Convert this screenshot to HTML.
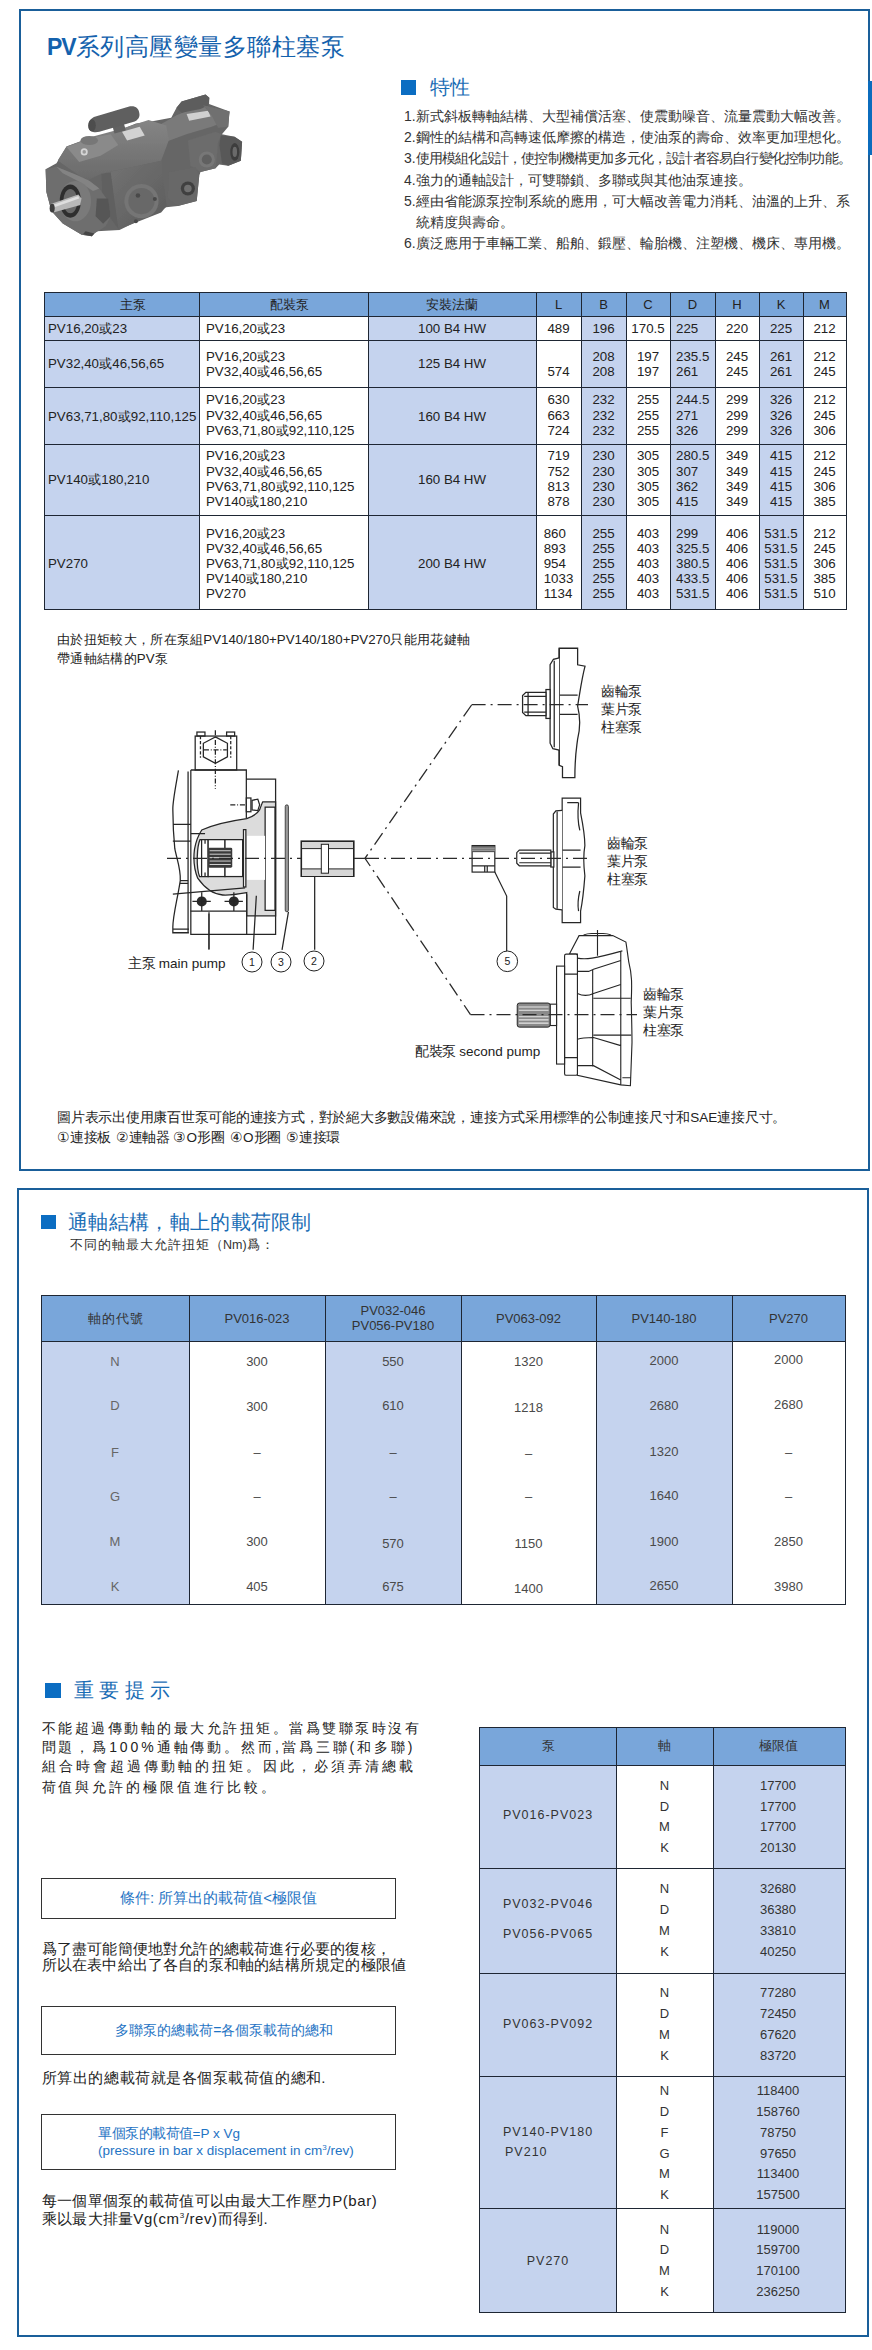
<!DOCTYPE html><html><head><meta charset="utf-8"><style>
html,body{margin:0;padding:0;background:#fff;}
body{width:872px;height:2350px;position:relative;overflow:hidden;font-family:"Liberation Sans", sans-serif;}
.t{position:absolute;white-space:nowrap;}
.r{position:absolute;box-sizing:border-box;}
svg{position:absolute;overflow:visible;}
i{display:inline-block;width:var(--cw,1em);text-align:center;font-style:normal;letter-spacing:0;margin-right:var(--ls,0px);}
.nocjk i{position:relative;-webkit-text-fill-color:transparent;}
.nocjk i::before{content:'';position:absolute;left:0.08em;right:0.08em;top:50%;height:0.82em;margin-top:-0.42em;background:currentColor;opacity:0.37;}
.nocjk i.p::before{left:0.12em;right:0.55em;margin-top:0.12em;height:0.3em;}
</style></head><body>
<div class="r" style="left:19px;top:9px;width:851px;height:1162px;border:2px solid #1a5f9a;"></div>
<div class="r" style="left:868px;top:81px;width:4px;height:74px;background:#0b6cbd;"></div>
<div class="r" style="left:17px;top:1188px;width:852px;height:1149px;border:2px solid #1a5f9a;"></div>
<div class="t" style="left:47px;top:32px;font-size:24.4px;line-height:30px;color:#1462ad;--cw:24.5px;"><b style="font-size:23px;letter-spacing:-1.2px;">PV</b><i>系</i><i>列</i><i>高</i><i>壓</i><i>變</i><i>量</i><i>多</i><i>聯</i><i>柱</i><i>塞</i><i>泵</i></div>
<div class="r" style="left:401px;top:80px;width:15px;height:15px;background:#0b6dc2;"></div>
<div class="t" style="left:430px;top:75.0px;font-size:20px;line-height:24.0px;color:#1a6db5;"><i>特</i><i>性</i></div>
<div class="t" style="left:404px;top:107.6px;font-size:14px;line-height:16.8px;color:#333;">1.<i>新</i><i>式</i><i>斜</i><i>板</i><i>轉</i><i>軸</i><i>結</i><i>構</i><i class="p">、</i><i>大</i><i>型</i><i>補</i><i>償</i><i>活</i><i>塞</i><i class="p">、</i><i>使</i><i>震</i><i>動</i><i>噪</i><i>音</i><i class="p">、</i><i>流</i><i>量</i><i>震</i><i>動</i><i>大</i><i>幅</i><i>改</i><i>善</i><i class="p">。</i></div>
<div class="t" style="left:404px;top:128.9px;font-size:14px;line-height:16.8px;color:#333;">2.<i>鋼</i><i>性</i><i>的</i><i>結</i><i>構</i><i>和</i><i>高</i><i>轉</i><i>速</i><i>低</i><i>摩</i><i>擦</i><i>的</i><i>構</i><i>造</i><i class="p">，</i><i>使</i><i>油</i><i>泵</i><i>的</i><i>壽</i><i>命</i><i class="p">、</i><i>效</i><i>率</i><i>更</i><i>加</i><i>理</i><i>想</i><i>化</i><i class="p">。</i></div>
<div class="t" style="left:404px;top:150.2px;font-size:14px;line-height:16.8px;color:#333;--cw:13.2px;">3.<i>使</i><i>用</i><i>模</i><i>組</i><i>化</i><i>設</i><i>計</i><i class="p">，</i><i>使</i><i>控</i><i>制</i><i>機</i><i>構</i><i>更</i><i>加</i><i>多</i><i>元</i><i>化</i><i class="p">，</i><i>設</i><i>計</i><i>者</i><i>容</i><i>易</i><i>自</i><i>行</i><i>變</i><i>化</i><i>控</i><i>制</i><i>功</i><i>能</i><i class="p">。</i></div>
<div class="t" style="left:404px;top:171.5px;font-size:14px;line-height:16.8px;color:#333;">4.<i>強</i><i>力</i><i>的</i><i>通</i><i>軸</i><i>設</i><i>計</i><i class="p">，</i><i>可</i><i>雙</i><i>聯</i><i>鎖</i><i class="p">、</i><i>多</i><i>聯</i><i>或</i><i>與</i><i>其</i><i>他</i><i>油</i><i>泵</i><i>連</i><i>接</i><i class="p">。</i></div>
<div class="t" style="left:404px;top:192.8px;font-size:14px;line-height:16.8px;color:#333;">5.<i>經</i><i>由</i><i>省</i><i>能</i><i>源</i><i>泵</i><i>控</i><i>制</i><i>系</i><i>統</i><i>的</i><i>應</i><i>用</i><i class="p">，</i><i>可</i><i>大</i><i>幅</i><i>改</i><i>善</i><i>電</i><i>力</i><i>消</i><i>耗</i><i class="p">、</i><i>油</i><i>溫</i><i>的</i><i>上</i><i>升</i><i class="p">、</i><i>系</i></div>
<div class="t" style="left:404px;top:214.1px;font-size:14px;line-height:16.8px;color:#333;">&nbsp;&nbsp;&nbsp;<i>統</i><i>精</i><i>度</i><i>與</i><i>壽</i><i>命</i><i class="p">。</i></div>
<div class="t" style="left:404px;top:235.4px;font-size:14px;line-height:16.8px;color:#333;">6.<i>廣</i><i>泛</i><i>應</i><i>用</i><i>于</i><i>車</i><i>輛</i><i>工</i><i>業</i><i class="p">、</i><i>船</i><i>舶</i><i class="p">、</i><i>鍛</i><i>壓</i><i class="p">、</i><i>輪</i><i>胎</i><i>機</i><i class="p">、</i><i>注</i><i>塑</i><i>機</i><i class="p">、</i><i>機</i><i>床</i><i class="p">、</i><i>專</i><i>用</i><i>機</i><i class="p">。</i></div>
<svg style="left:35px;top:80px;width:220px;height:170px" viewBox="0 0 872 674">
<defs>
<linearGradient id="pg1" x1="0" y1="0" x2="0" y2="1"><stop offset="0" stop-color="#858585"/><stop offset="1" stop-color="#6a6a6a"/></linearGradient>
<linearGradient id="pg2" x1="0" y1="0" x2="1" y2="1"><stop offset="0" stop-color="#747474"/><stop offset="1" stop-color="#5c5c5c"/></linearGradient>
<filter id="pblur" x="-5%" y="-5%" width="110%" height="110%"><feGaussianBlur stdDeviation="2.5"/></filter>
</defs>
<g stroke="none" filter="url(#pblur)">
<!-- base silhouette -->
<polygon fill="#666" points="42,354 85,330 125,264 230,226 300,212 315,200 345,195 400,172 460,165 540,150 561,110 581,85 676,57 691,70 690,95 771,125 766,185 741,215 791,225 821,245 816,320 766,340 730,335 716,350 656,365 651,380 641,480 566,500 520,505 335,595 245,600 235,609 225,619 185,614 110,569 65,519 45,444"/>
<!-- right section top faces -->
<polygon fill="#7a7a7a" points="455,200 561,140 660,100 771,125 766,160 700,185 600,215 520,245 470,250"/>
<polygon fill="#5d5d5d" points="561,110 581,85 676,57 691,70 688,100 656,115 581,130"/>
<polygon fill="#d0d0d0" points="601,135 686,122 696,145 611,162"/>
<polygon fill="#6f6f6f" points="666,100 771,125 766,185 726,190 700,140"/>
<!-- middle front -->
<polygon fill="#6c6c6c" points="606,240 716,205 741,215 726,245 716,350 656,365 616,340"/>
<circle cx="681" cy="315" r="32" fill="#777"/>
<circle cx="681" cy="315" r="20" fill="#606060"/>
<!-- right end port block -->
<polygon fill="#595959" points="736,220 791,225 821,245 816,320 766,340 741,330 731,260"/>
<ellipse cx="792" cy="285" rx="18" ry="35" fill="#3c3c3c"/>
<ellipse cx="792" cy="285" rx="9" ry="20" fill="#6a6a6a"/>
<!-- main top face -->
<polygon fill="url(#pg1)" points="90,319 125,264 230,224 340,194 450,159 520,180 530,240 500,320 262,372 205,399"/>
<polygon fill="#8a8a8a" points="125,266 230,228 300,215 330,258 260,300 175,325"/>
<ellipse cx="215" cy="240" rx="35" ry="18" fill="#777"/>
<!-- left compensator -->
<polygon fill="#626262" points="305,175 350,165 360,200 315,212"/>
<path fill="#5f5f5f" d="M212,188 C210,165 222,150 240,145 L370,106 C395,100 412,110 414,135 C416,150 405,160 395,165 L255,205 C235,210 214,205 212,188 Z"/>
<ellipse cx="226" cy="180" rx="15" ry="24" fill="#4e4e4e"/>
<polygon fill="#d2d2d2" points="345,205 415,185 435,220 365,240"/>
<!-- main body front face -->
<polygon fill="url(#pg2)" points="262,372 500,320 522,500 500,525 332,592 268,505"/>
<polygon fill="#606060" points="262,372 300,366 330,590 268,505"/>
<circle cx="422" cy="480" r="68" fill="#747474"/>
<circle cx="422" cy="480" r="52" fill="#686868"/>
<circle cx="408" cy="458" r="9" fill="#4a4a4a"/>
<circle cx="475" cy="472" r="8" fill="#4a4a4a"/>
<circle cx="400" cy="560" r="8" fill="#4a4a4a"/>
<!-- main port flange -->
<polygon fill="#676767" points="531,365 636,345 651,380 641,480 566,500 526,470"/>
<circle cx="606" cy="430" r="28" fill="#414141"/>
<circle cx="606" cy="430" r="15" fill="#707070"/>
<!-- front flange -->
<polygon fill="#6e6e6e" points="42,354 85,344 120,359 170,379 215,399 255,430 290,480 300,540 280,580 235,609 225,619 185,614 110,569 65,519 45,444"/>
<polygon fill="#838383" points="85,344 170,379 215,399 255,430 230,440 170,400 110,370"/>
<ellipse cx="160" cy="480" rx="62" ry="80" fill="#7a7a7a"/>
<ellipse cx="140" cy="480" rx="42" ry="66" fill="#2e2e2e"/>
<ellipse cx="140" cy="480" rx="28" ry="48" fill="#686868"/>
<polygon fill="#575757" points="245,470 290,470 300,540 270,570 240,540"/>
<!-- shaft -->
<polygon fill="#b8b8b8" points="62,492 172,454 184,470 180,496 76,524"/>
<polygon fill="#dedede" points="66,497 172,460 175,470 68,507"/>
<ellipse cx="68" cy="508" rx="10" ry="17" fill="#3c3c3c"/>
<circle cx="195" cy="285" r="14" fill="#d5d5d5"/>
<circle cx="195" cy="285" r="7" fill="#9a9a9a"/>
<polygon fill="#444" points="200,600 235,609 225,619 190,612"/>
</g>
</svg>

<div class="r" style="left:44px;top:292px;width:802px;height:24px;background:#79a6da;"></div>
<div class="r" style="left:44px;top:316px;width:155px;height:293px;background:#c5d3ee;"></div>
<div class="r" style="left:368px;top:316px;width:168px;height:293px;background:#c5d3ee;"></div>
<div class="r" style="left:581px;top:316px;width:45px;height:293px;background:#c5d3ee;"></div>
<div class="r" style="left:670px;top:316px;width:45px;height:293px;background:#c5d3ee;"></div>
<div class="r" style="left:759px;top:316px;width:44px;height:293px;background:#c5d3ee;"></div>
<div class="r" style="left:44px;top:292px;width:1px;height:318px;background:#1e2633;"></div>
<div class="r" style="left:199px;top:292px;width:1px;height:318px;background:#1e2633;"></div>
<div class="r" style="left:368px;top:292px;width:1px;height:318px;background:#1e2633;"></div>
<div class="r" style="left:536px;top:292px;width:1px;height:318px;background:#1e2633;"></div>
<div class="r" style="left:581px;top:292px;width:1px;height:318px;background:#1e2633;"></div>
<div class="r" style="left:626px;top:292px;width:1px;height:318px;background:#1e2633;"></div>
<div class="r" style="left:670px;top:292px;width:1px;height:318px;background:#1e2633;"></div>
<div class="r" style="left:715px;top:292px;width:1px;height:318px;background:#1e2633;"></div>
<div class="r" style="left:759px;top:292px;width:1px;height:318px;background:#1e2633;"></div>
<div class="r" style="left:803px;top:292px;width:1px;height:318px;background:#1e2633;"></div>
<div class="r" style="left:846px;top:292px;width:1px;height:318px;background:#1e2633;"></div>
<div class="r" style="left:44px;top:292px;width:803px;height:1px;background:#1e2633;"></div>
<div class="r" style="left:44px;top:316px;width:803px;height:1px;background:#1e2633;"></div>
<div class="r" style="left:44px;top:340px;width:803px;height:1px;background:#1e2633;"></div>
<div class="r" style="left:44px;top:387px;width:803px;height:1px;background:#1e2633;"></div>
<div class="r" style="left:44px;top:444px;width:803px;height:1px;background:#1e2633;"></div>
<div class="r" style="left:44px;top:515px;width:803px;height:1px;background:#1e2633;"></div>
<div class="r" style="left:44px;top:609px;width:803px;height:1px;background:#1e2633;"></div>
<div class="t" style="left:-67.5px;width:400px;text-align:center;top:296.7px;font-size:13px;line-height:15.6px;color:#222;"><i>主</i><i>泵</i></div>
<div class="t" style="left:89.5px;width:400px;text-align:center;top:296.7px;font-size:13px;line-height:15.6px;color:#222;"><i>配</i><i>裝</i><i>泵</i></div>
<div class="t" style="left:252.0px;width:400px;text-align:center;top:296.7px;font-size:13px;line-height:15.6px;color:#222;"><i>安</i><i>裝</i><i>法</i><i>蘭</i></div>
<div class="t" style="left:358.5px;width:400px;text-align:center;top:296.7px;font-size:13px;line-height:15.6px;color:#222;">L</div>
<div class="t" style="left:403.5px;width:400px;text-align:center;top:296.7px;font-size:13px;line-height:15.6px;color:#222;">B</div>
<div class="t" style="left:448.0px;width:400px;text-align:center;top:296.7px;font-size:13px;line-height:15.6px;color:#222;">C</div>
<div class="t" style="left:492.5px;width:400px;text-align:center;top:296.7px;font-size:13px;line-height:15.6px;color:#222;">D</div>
<div class="t" style="left:537.0px;width:400px;text-align:center;top:296.7px;font-size:13px;line-height:15.6px;color:#222;">H</div>
<div class="t" style="left:581.0px;width:400px;text-align:center;top:296.7px;font-size:13px;line-height:15.6px;color:#222;">K</div>
<div class="t" style="left:624.5px;width:400px;text-align:center;top:296.7px;font-size:13px;line-height:15.6px;color:#222;">M</div>
<div class="t" style="left:48px;top:320.5px;font-size:13.3px;line-height:15.00px;color:#222;">PV16,20<i>或</i>23</div>
<div class="t" style="left:206px;top:320.5px;font-size:13.3px;line-height:15.00px;color:#222;">PV16,20<i>或</i>23</div>
<div class="t" style="left:368px;width:168px;top:320.5px;font-size:13.3px;line-height:15.00px;color:#222;display:flex;justify-content:center;"><div style="text-align:left">100 B4 HW</div></div>
<div class="t" style="left:536px;width:45px;top:320.5px;font-size:13.3px;line-height:15.00px;color:#222;display:flex;justify-content:center;"><div style="text-align:left">489</div></div>
<div class="t" style="left:581px;width:45px;top:320.5px;font-size:13.3px;line-height:15.00px;color:#222;display:flex;justify-content:center;"><div style="text-align:left">196</div></div>
<div class="t" style="left:626px;width:44px;top:320.5px;font-size:13.3px;line-height:15.00px;color:#222;display:flex;justify-content:center;"><div style="text-align:left">170.5</div></div>
<div class="t" style="left:676px;top:320.5px;font-size:13.3px;line-height:15.00px;color:#222;">225</div>
<div class="t" style="left:715px;width:44px;top:320.5px;font-size:13.3px;line-height:15.00px;color:#222;display:flex;justify-content:center;"><div style="text-align:left">220</div></div>
<div class="t" style="left:759px;width:44px;top:320.5px;font-size:13.3px;line-height:15.00px;color:#222;display:flex;justify-content:center;"><div style="text-align:left">225</div></div>
<div class="t" style="left:803px;width:43px;top:320.5px;font-size:13.3px;line-height:15.00px;color:#222;display:flex;justify-content:center;"><div style="text-align:left">212</div></div>
<div class="t" style="left:48px;top:355.5px;font-size:13.3px;line-height:15.00px;color:#222;">PV32,40<i>或</i>46,56,65</div>
<div class="t" style="left:206px;top:348.5px;font-size:13.3px;line-height:15.00px;color:#222;">PV16,20<i>或</i>23<br>PV32,40<i>或</i>46,56,65</div>
<div class="t" style="left:368px;width:168px;top:355.5px;font-size:13.3px;line-height:15.00px;color:#222;display:flex;justify-content:center;"><div style="text-align:left">125 B4 HW</div></div>
<div class="t" style="left:536px;width:45px;top:348.5px;font-size:13.3px;line-height:15.00px;color:#222;display:flex;justify-content:center;"><div style="text-align:left">&nbsp;<br>574</div></div>
<div class="t" style="left:581px;width:45px;top:348.5px;font-size:13.3px;line-height:15.00px;color:#222;display:flex;justify-content:center;"><div style="text-align:left">208<br>208</div></div>
<div class="t" style="left:626px;width:44px;top:348.5px;font-size:13.3px;line-height:15.00px;color:#222;display:flex;justify-content:center;"><div style="text-align:left">197<br>197</div></div>
<div class="t" style="left:676px;top:348.5px;font-size:13.3px;line-height:15.00px;color:#222;">235.5<br>261</div>
<div class="t" style="left:715px;width:44px;top:348.5px;font-size:13.3px;line-height:15.00px;color:#222;display:flex;justify-content:center;"><div style="text-align:left">245<br>245</div></div>
<div class="t" style="left:759px;width:44px;top:348.5px;font-size:13.3px;line-height:15.00px;color:#222;display:flex;justify-content:center;"><div style="text-align:left">261<br>261</div></div>
<div class="t" style="left:803px;width:43px;top:348.5px;font-size:13.3px;line-height:15.00px;color:#222;display:flex;justify-content:center;"><div style="text-align:left">212<br>245</div></div>
<div class="t" style="left:48px;top:408.5px;font-size:13.3px;line-height:15.00px;color:#222;">PV63,71,80<i>或</i>92,110,125</div>
<div class="t" style="left:206px;top:392.2px;font-size:13.3px;line-height:15.60px;color:#222;">PV16,20<i>或</i>23<br>PV32,40<i>或</i>46,56,65<br>PV63,71,80<i>或</i>92,110,125</div>
<div class="t" style="left:368px;width:168px;top:408.5px;font-size:13.3px;line-height:15.00px;color:#222;display:flex;justify-content:center;"><div style="text-align:left">160 B4 HW</div></div>
<div class="t" style="left:536px;width:45px;top:392.2px;font-size:13.3px;line-height:15.60px;color:#222;display:flex;justify-content:center;"><div style="text-align:left">630<br>663<br>724</div></div>
<div class="t" style="left:581px;width:45px;top:392.2px;font-size:13.3px;line-height:15.60px;color:#222;display:flex;justify-content:center;"><div style="text-align:left">232<br>232<br>232</div></div>
<div class="t" style="left:626px;width:44px;top:392.2px;font-size:13.3px;line-height:15.60px;color:#222;display:flex;justify-content:center;"><div style="text-align:left">255<br>255<br>255</div></div>
<div class="t" style="left:676px;top:392.2px;font-size:13.3px;line-height:15.60px;color:#222;">244.5<br>271<br>326</div>
<div class="t" style="left:715px;width:44px;top:392.2px;font-size:13.3px;line-height:15.60px;color:#222;display:flex;justify-content:center;"><div style="text-align:left">299<br>299<br>299</div></div>
<div class="t" style="left:759px;width:44px;top:392.2px;font-size:13.3px;line-height:15.60px;color:#222;display:flex;justify-content:center;"><div style="text-align:left">326<br>326<br>326</div></div>
<div class="t" style="left:803px;width:43px;top:392.2px;font-size:13.3px;line-height:15.60px;color:#222;display:flex;justify-content:center;"><div style="text-align:left">212<br>245<br>306</div></div>
<div class="t" style="left:48px;top:471.5px;font-size:13.3px;line-height:15.00px;color:#222;">PV140<i>或</i>180,210</div>
<div class="t" style="left:206px;top:448.4px;font-size:13.3px;line-height:15.20px;color:#222;">PV16,20<i>或</i>23<br>PV32,40<i>或</i>46,56,65<br>PV63,71,80<i>或</i>92,110,125<br>PV140<i>或</i>180,210</div>
<div class="t" style="left:368px;width:168px;top:471.5px;font-size:13.3px;line-height:15.00px;color:#222;display:flex;justify-content:center;"><div style="text-align:left">160 B4 HW</div></div>
<div class="t" style="left:536px;width:45px;top:448.4px;font-size:13.3px;line-height:15.20px;color:#222;display:flex;justify-content:center;"><div style="text-align:left">719<br>752<br>813<br>878</div></div>
<div class="t" style="left:581px;width:45px;top:448.4px;font-size:13.3px;line-height:15.20px;color:#222;display:flex;justify-content:center;"><div style="text-align:left">230<br>230<br>230<br>230</div></div>
<div class="t" style="left:626px;width:44px;top:448.4px;font-size:13.3px;line-height:15.20px;color:#222;display:flex;justify-content:center;"><div style="text-align:left">305<br>305<br>305<br>305</div></div>
<div class="t" style="left:676px;top:448.4px;font-size:13.3px;line-height:15.20px;color:#222;">280.5<br>307<br>362<br>415</div>
<div class="t" style="left:715px;width:44px;top:448.4px;font-size:13.3px;line-height:15.20px;color:#222;display:flex;justify-content:center;"><div style="text-align:left">349<br>349<br>349<br>349</div></div>
<div class="t" style="left:759px;width:44px;top:448.4px;font-size:13.3px;line-height:15.20px;color:#222;display:flex;justify-content:center;"><div style="text-align:left">415<br>415<br>415<br>415</div></div>
<div class="t" style="left:803px;width:43px;top:448.4px;font-size:13.3px;line-height:15.20px;color:#222;display:flex;justify-content:center;"><div style="text-align:left">212<br>245<br>306<br>385</div></div>
<div class="t" style="left:48px;top:555.5px;font-size:13.3px;line-height:15.00px;color:#222;">PV270</div>
<div class="t" style="left:206px;top:525.5px;font-size:13.3px;line-height:15.10px;color:#222;">PV16,20<i>或</i>23<br>PV32,40<i>或</i>46,56,65<br>PV63,71,80<i>或</i>92,110,125<br>PV140<i>或</i>180,210<br>PV270</div>
<div class="t" style="left:368px;width:168px;top:555.5px;font-size:13.3px;line-height:15.00px;color:#222;display:flex;justify-content:center;"><div style="text-align:left">200 B4 HW</div></div>
<div class="t" style="left:536px;width:45px;top:525.5px;font-size:13.3px;line-height:15.10px;color:#222;display:flex;justify-content:center;"><div style="text-align:left">860<br>893<br>954<br>1033<br>1134</div></div>
<div class="t" style="left:581px;width:45px;top:525.5px;font-size:13.3px;line-height:15.10px;color:#222;display:flex;justify-content:center;"><div style="text-align:left">255<br>255<br>255<br>255<br>255</div></div>
<div class="t" style="left:626px;width:44px;top:525.5px;font-size:13.3px;line-height:15.10px;color:#222;display:flex;justify-content:center;"><div style="text-align:left">403<br>403<br>403<br>403<br>403</div></div>
<div class="t" style="left:676px;top:525.5px;font-size:13.3px;line-height:15.10px;color:#222;">299<br>325.5<br>380.5<br>433.5<br>531.5</div>
<div class="t" style="left:715px;width:44px;top:525.5px;font-size:13.3px;line-height:15.10px;color:#222;display:flex;justify-content:center;"><div style="text-align:left">406<br>406<br>406<br>406<br>406</div></div>
<div class="t" style="left:759px;width:44px;top:525.5px;font-size:13.3px;line-height:15.10px;color:#222;display:flex;justify-content:center;"><div style="text-align:left">531.5<br>531.5<br>531.5<br>531.5<br>531.5</div></div>
<div class="t" style="left:803px;width:43px;top:525.5px;font-size:13.3px;line-height:15.10px;color:#222;display:flex;justify-content:center;"><div style="text-align:left">212<br>245<br>306<br>385<br>510</div></div>
<div class="t" style="left:57px;top:631.5px;font-size:13.3px;line-height:16.0px;color:#222;"><i>由</i><i>於</i><i>扭</i><i>矩</i><i>較</i><i>大</i><i class="p">，</i><i>所</i><i>在</i><i>泵</i><i>組</i>PV140/180+PV140/180+PV270<i>只</i><i>能</i><i>用</i><i>花</i><i>鍵</i><i>軸</i></div>
<div class="t" style="left:57px;top:650.5px;font-size:13.3px;line-height:16.0px;color:#222;"><i>帶</i><i>通</i><i>軸</i><i>結</i><i>構</i><i>的</i>PV<i>泵</i></div>
<svg style="left:0px;top:600px;width:872px;height:500px" viewBox="0 600 872 500">
<defs>
<style>
.k{stroke:#262626;}
.k:not([fill]){fill:none;}
.dd{fill:none;stroke:#2a2a2a;stroke-dasharray:14 5 2 5;}
</style>
</defs>
<!-- main pump: zoom [150,720,350,940] scale 4.36 -->
<g transform="translate(150,720) scale(0.22936)" stroke-width="5.5">
  <!-- grey section -->
  <path fill="#dcdcdc" stroke="#262626" d="M421.6,430 C450,420 470,405 477.6,392 C485,375 488,362 491.6,357 L547.6,357 L547.6,854 L421.6,854 L421.6,752.6 C380,760 340,765 316.6,763 C280,760 240,735 208,689.6 C192,650 188,610 194,563.6 C200,530 212,500 225.6,479.6 C280,455 350,440 421.6,430 Z"/>
  <rect x="502" y="380" width="43" height="450" fill="#fff" class="k"/>
  <rect x="421.6" y="505" width="80" height="192" fill="#fff" stroke="none"/>
  <rect x="421.6" y="697" width="80" height="0" class="k"/>
  <!-- hub -->
  <path fill="#fff" class="k" d="M253.6,521.6 H218 C205,550 200,640 216,682.6 H253.6 Z"/>
  <path class="k" d="M225,521.6 V682.6 M240,521.6 V540 M240,665 V682.6"/>
  <rect class="k" x="253.6" y="521.6" width="73.4" height="161" fill="#fff"/>
  <rect class="k" x="327" y="521.6" width="77" height="161" fill="#fff"/>
  <rect x="253.6" y="556.6" width="105" height="87.4" fill="#3a3a3a" rx="6"/>
  <path stroke="#e0e0e0" stroke-width="4" d="M260,570 H352 M260,585 H352 M260,600 H352 M260,615 H352 M260,630 H352"/>
  <rect class="k" x="407.6" y="478" width="10.4" height="250" fill="#fff"/>
  <!-- body -->
  <rect class="k" x="197" y="70" width="181" height="148" fill="#fff"/>
  <rect class="k" x="204.6" y="52.5" width="35" height="17.5"/>
  <rect class="k" x="334" y="52.5" width="35" height="17.5"/>
  <polygon class="k" points="285.1,73.5 337.6,101.5 337.6,161 285.1,189 232.6,161 232.6,101.5"/>
  <path class="k" stroke-dasharray="14 8" d="M220,70 V165 M352,70 V165"/>
  <path class="k" stroke-dasharray="22 8 4 8" d="M285,45 V300 M235,130 H335"/>
  <path class="k" d="M178,218 H420 V430 M178,218 V934.6 H547.6 V258 H420 M166,225 V925"/>
  <path class="k" d="M124,220 C110,300 98,360 99.6,392 C100,450 104,520 108,560 C115,600 135,650 132,700 C120,780 100,850 99.6,903 V927.6 H169.6 M99.6,455 H178 M99.6,528 H178 M132,700 H166 M132,712 H166 M99.6,912 H169.6"/>
  <rect class="k" x="420" y="340" width="20" height="60" fill="#fff"/>
  <polygon class="k" points="445,350 470,345 478,370 470,395 445,392" fill="#fff"/>
  <path class="k" stroke-dasharray="22 8 4 8" d="M350,370 H420"/>
  <path class="k" d="M178,495 H240 M176.6,833 H421.6 M421.6,760 V934.6 M99.6,759.6 L414.6,731.6"/>
  <circle cx="225.6" cy="791" r="22" fill="#2a2a2a"/>
  <circle cx="365.6" cy="791" r="22" fill="#2a2a2a"/>
  <path class="k" d="M185,791 H265 M325,791 H405 M225.6,751 V833 M365.6,751 V833"/>
  <rect x="589.6" y="370" width="14" height="466" rx="7" fill="#9a9a9a" stroke="#2b2b2b" stroke-width="3.5"/>
  <path class="k" d="M257,843.6 V1002 M463.6,766.6 L449.6,1002 M603.6,836.6 L575.6,1002 M718,680 V1002"/>
</g>
<!-- center dash-dot main -->

<!-- coupling 2 -->
<rect x="301.3" y="841.2" width="52.5" height="35" fill="#fff" stroke="#222" stroke-width="1.6"/>
<rect x="302" y="842" width="51" height="6.5" fill="#d6d6d6"/>
<rect x="302" y="869" width="51" height="7" fill="#d6d6d6"/>
<path class="k" stroke-width="1" d="M301.3,848.6 H353.8 M301.3,868.9 H353.8"/>
<rect x="321.3" y="844.3" width="7.2" height="28.9" fill="#fff" stroke="#222" stroke-width="1"/>
<!-- diagonals -->
<path class="dd" stroke-width="1.3" d="M471.6,705 L365,858.3 L470.5,1014.6"/>



<!-- upper pump: zoom [440,640,680,790] scale 3.633 -->
<g transform="translate(440,640) scale(0.27525)" stroke-width="4.6">
  <path class="k" fill="#fff" d="M433,30 H500 V90 L527,95 C515,140 510,180 500,240 C510,280 510,320 500,360 C495,400 490,420 490,500 H445 V460 L433,455 Z"/>
  <path class="k" d="M433,30 V455 M433,200 H500 M433,270 H500"/>
  <path class="k" fill="#fff" d="M433,65 L412,70 L400,90 V375 L410,395 L433,400"/>
  <path class="k" d="M415,75 V390"/>
  <rect class="k" x="385" y="180" width="15" height="105" fill="#fff"/>
  <path class="k" fill="#fff" d="M385,190 H312 L300,202 V263 L312,275 H385 Z"/>
  <path class="k" d="M306,205 H385 M306,262 H385 M320,190 V275"/>
</g>
<!-- middle pump: zoom [460,780,680,940] scale 3.964 -->
<g transform="translate(460,780) scale(0.25227)" stroke-width="4.8">
  <path class="k" fill="#fff" d="M405,72 H478 V130 C488,180 495,230 495,260 C488,300 490,340 495,380 C492,420 488,470 478,520 V565 H405 Z"/>
  <path class="k" d="M425,90 H470 M405,278 H478 M405,345 H478 M470,90 C465,140 470,180 475,200 M470,520 C465,490 470,460 475,440"/>
  <path class="k" fill="#fff" d="M405,120 L380,122 L370,135 V505 L380,512 L405,515"/>
  <path class="k" d="M385,125 V510"/>
  <rect class="k" x="360" y="285" width="12" height="60" fill="#fff"/>
  <path class="k" fill="#fff" d="M360,278 H235 L225,288 V330 L235,340 H360 Z"/>
  <path class="k" d="M235,290 H360 M235,328 H360"/>
  <rect class="k" x="48" y="260" width="90" height="105" fill="#fff"/>
  <rect x="48" y="262" width="90" height="24" fill="#555"/>
  <path stroke="#ddd" stroke-width="3" d="M48,270 H138 M48,278 H138"/>
  <path class="k" d="M48,340 H138 M98,340 V365 M108,340 V365 M138,365 L185,460 V690"/>
</g>

<!-- bottom pump: zoom [510,930,650,1090] scale 6.229 -->
<g transform="translate(510,930) scale(0.16054)" stroke-width="7">
  <path class="k" fill="#fff" d="M370,150 L430,35 H640 L722,75 C728,110 735,170 740,200 C760,280 760,330 755,450 C758,560 760,650 760,700 C755,820 752,900 750,970 L690,965 L420,905 V150 Z"/>
  <path class="k" d="M455,35 C470,15 620,15 632,35 M545,0 V160"/>
  <path class="k" d="M420,175 C470,185 520,180 700,130 M420,258 H490 L520,245 L690,190 M420,395 C450,410 490,410 520,395 L690,340 M515,245 V850 M690,130 V965 M520,425 H752 M520,655 H755 M420,680 C450,670 490,670 520,670 L690,720 M420,845 H520 L690,935 M700,920 H752"/>
  <rect class="k" x="340" y="150" width="80" height="755" rx="10" fill="#fff"/>
  <path class="k" d="M340,275 H420 M340,795 H420"/>
  <rect class="k" x="290" y="225" width="50" height="610" fill="#fff"/>
  <rect class="k" x="250" y="462" width="40" height="133" fill="#fff"/>
  <rect x="45" y="455" width="205" height="150" rx="14" fill="#8a8a8a" stroke="#222" stroke-width="6"/>
  <path stroke="#e8e8e8" stroke-width="7" d="M55,480 H240 M55,500 H240 M55,540 H240 M55,560 H240 M55,580 H240"/>
</g>

<g stroke="#333">
<path class="dd" stroke-width="1.3" d="M167,858.3 H301 M354,858.3 H365"/>
<path class="dd" stroke-width="1.3" d="M471.6,704.7 H588"/>
<path class="dd" stroke-width="1.3" d="M365,858.3 H590"/>
<path class="dd" stroke-width="1.3" d="M470.5,1014.6 H637"/>
</g>
<!-- circles -->
<g fill="#fff" stroke="#222" stroke-width="1">
<circle cx="252" cy="962" r="10"/>
<circle cx="281" cy="962" r="10"/>
<circle cx="314" cy="961" r="10"/>
<circle cx="507.3" cy="961.3" r="10.3"/>
</g>
<path stroke="#222" stroke-width="1" d="M209,912 V949"/>
<g font-family="Liberation Sans, sans-serif" font-size="10.5" fill="#222" text-anchor="middle">
<text x="252" y="965.8">1</text>
<text x="281" y="965.8">3</text>
<text x="314" y="964.8">2</text>
<text x="507.3" y="965.1">5</text>
</g>
</svg>
<div class="t" style="left:128px;top:955px;font-size:13.5px;line-height:18px;color:#222"><i>主</i><i>泵</i> main pump</div>
<div class="t" style="left:415px;top:1043px;font-size:13.5px;line-height:18px;color:#222"><i>配</i><i>裝</i><i>泵</i> second pump</div>
<div class="t" style="left:601px;top:683px;font-size:13.5px;line-height:18px;color:#222"><i>齒</i><i>輪</i><i>泵</i><br><i>葉</i><i>片</i><i>泵</i><br><i>柱</i><i>塞</i><i>泵</i></div>
<div class="t" style="left:607px;top:835px;font-size:13.5px;line-height:18px;color:#222"><i>齒</i><i>輪</i><i>泵</i><br><i>葉</i><i>片</i><i>泵</i><br><i>柱</i><i>塞</i><i>泵</i></div>
<div class="t" style="left:643px;top:986px;font-size:13.5px;line-height:18px;color:#222"><i>齒</i><i>輪</i><i>泵</i><br><i>葉</i><i>片</i><i>泵</i><br><i>柱</i><i>塞</i><i>泵</i></div>

<div class="t" style="left:57px;top:1110.2px;font-size:13.5px;line-height:16.2px;color:#222;--cw:13.78px;"><i>圖</i><i>片</i><i>表</i><i>示</i><i>出</i><i>使</i><i>用</i><i>康</i><i>百</i><i>世</i><i>泵</i><i>可</i><i>能</i><i>的</i><i>連</i><i>接</i><i>方</i><i>式</i><i class="p">，</i><i>對</i><i>於</i><i>絕</i><i>大</i><i>多</i><i>數</i><i>設</i><i>備</i><i>來</i><i>說</i><i class="p">，</i><i>連</i><i>接</i><i>方</i><i>式</i><i>采</i><i>用</i><i>標</i><i>準</i><i>的</i><i>公</i><i>制</i><i>連</i><i>接</i><i>尺</i><i>寸</i><i>和</i>SAE<i>連</i><i>接</i><i>尺</i><i>寸</i><i class="p">。</i></div>
<div class="t" style="left:56.9px;top:1129.5px;font-size:13.5px;line-height:16.2px;color:#222;"><i>①</i><i>連</i><i>接</i><i>板</i></div>
<div class="t" style="left:115.4px;top:1129.5px;font-size:13.5px;line-height:16.2px;color:#222;"><i>②</i><i>連</i><i>軸</i><i>器</i></div>
<div class="t" style="left:173px;top:1129.5px;font-size:13.5px;line-height:16.2px;color:#222;"><i>③</i>O<i>形</i><i>圈</i></div>
<div class="t" style="left:229.6px;top:1129.5px;font-size:13.5px;line-height:16.2px;color:#222;"><i>④</i>O<i>形</i><i>圈</i></div>
<div class="t" style="left:285.6px;top:1129.5px;font-size:13.5px;line-height:16.2px;color:#222;"><i>⑤</i><i>連</i><i>接</i><i>環</i></div>
<div class="r" style="left:41px;top:1215px;width:15px;height:14px;background:#0b6dc2;"></div>
<div class="t" style="left:68px;top:1209.8px;font-size:20.3px;line-height:24.4px;color:#1a6db5;"><i>通</i><i>軸</i><i>結</i><i>構</i><i class="p">，</i><i>軸</i><i>上</i><i>的</i><i>載</i><i>荷</i><i>限</i><i>制</i></div>
<div class="t" style="left:69px;top:1238.0px;font-size:12.5px;line-height:15.0px;color:#333;--cw:14px;"><i>不</i><i>同</i><i>的</i><i>軸</i><i>最</i><i>大</i><i>允</i><i>許</i><i>扭</i><i>矩</i><i class="p">（</i>Nm)<i>爲</i><i class="p">：</i></div>
<div class="r" style="left:41px;top:1295px;width:804px;height:46px;background:#79a6da;"></div>
<div class="r" style="left:41px;top:1341px;width:148px;height:263px;background:#c5d3ee;"></div>
<div class="r" style="left:325px;top:1341px;width:136px;height:263px;background:#c5d3ee;"></div>
<div class="r" style="left:596px;top:1341px;width:136px;height:263px;background:#c5d3ee;"></div>
<div class="r" style="left:41px;top:1295px;width:1px;height:310px;background:#1e2633;"></div>
<div class="r" style="left:189px;top:1295px;width:1px;height:310px;background:#1e2633;"></div>
<div class="r" style="left:325px;top:1295px;width:1px;height:310px;background:#1e2633;"></div>
<div class="r" style="left:461px;top:1295px;width:1px;height:310px;background:#1e2633;"></div>
<div class="r" style="left:596px;top:1295px;width:1px;height:310px;background:#1e2633;"></div>
<div class="r" style="left:732px;top:1295px;width:1px;height:310px;background:#1e2633;"></div>
<div class="r" style="left:845px;top:1295px;width:1px;height:310px;background:#1e2633;"></div>
<div class="r" style="left:41px;top:1295px;width:805px;height:1px;background:#1e2633;"></div>
<div class="r" style="left:41px;top:1341px;width:805px;height:1px;background:#1e2633;"></div>
<div class="r" style="left:41px;top:1604px;width:805px;height:1px;background:#1e2633;"></div>
<div class="t" style="left:-85.0px;width:400px;text-align:center;top:1310.6px;font-size:13px;line-height:15.6px;color:#333;--cw:14px;"><i>軸</i><i>的</i><i>代</i><i>號</i></div>
<div class="t" style="left:57.0px;width:400px;text-align:center;top:1310.6px;font-size:13px;line-height:15.6px;color:#333;">PV016-023</div>
<div class="t" style="left:328.5px;width:400px;text-align:center;top:1310.6px;font-size:13px;line-height:15.6px;color:#333;">PV063-092</div>
<div class="t" style="left:464.0px;width:400px;text-align:center;top:1310.6px;font-size:13px;line-height:15.6px;color:#333;">PV140-180</div>
<div class="t" style="left:588.5px;width:400px;text-align:center;top:1310.6px;font-size:13px;line-height:15.6px;color:#333;">PV270</div>
<div class="t" style="left:193.0px;width:400px;text-align:center;top:1302.8px;font-size:13px;line-height:15.6px;color:#333;">PV032-046</div>
<div class="t" style="left:193.0px;width:400px;text-align:center;top:1317.6px;font-size:13px;line-height:15.6px;color:#333;">PV056-PV180</div>
<div class="t" style="left:-85.0px;width:400px;text-align:center;top:1353.7px;font-size:13px;line-height:15.6px;color:#666;">N</div>
<div class="t" style="left:-85.0px;width:400px;text-align:center;top:1398.2px;font-size:13px;line-height:15.6px;color:#666;">D</div>
<div class="t" style="left:-85.0px;width:400px;text-align:center;top:1445.0px;font-size:13px;line-height:15.6px;color:#666;">F</div>
<div class="t" style="left:-85.0px;width:400px;text-align:center;top:1488.7px;font-size:13px;line-height:15.6px;color:#666;">G</div>
<div class="t" style="left:-85.0px;width:400px;text-align:center;top:1534.2px;font-size:13px;line-height:15.6px;color:#666;">M</div>
<div class="t" style="left:-85.0px;width:400px;text-align:center;top:1579.2px;font-size:13px;line-height:15.6px;color:#666;">K</div>
<div class="t" style="left:57.0px;width:400px;text-align:center;top:1353.6px;font-size:13px;line-height:15.6px;color:#4a4a4a;">300</div>
<div class="t" style="left:57.0px;width:400px;text-align:center;top:1399.2px;font-size:13px;line-height:15.6px;color:#4a4a4a;">300</div>
<div class="t" style="left:57.0px;width:400px;text-align:center;top:1445.2px;font-size:13px;line-height:15.6px;color:#4a4a4a;">–</div>
<div class="t" style="left:57.0px;width:400px;text-align:center;top:1489.2px;font-size:13px;line-height:15.6px;color:#4a4a4a;">–</div>
<div class="t" style="left:57.0px;width:400px;text-align:center;top:1534.2px;font-size:13px;line-height:15.6px;color:#4a4a4a;">300</div>
<div class="t" style="left:57.0px;width:400px;text-align:center;top:1579.2px;font-size:13px;line-height:15.6px;color:#4a4a4a;">405</div>
<div class="t" style="left:193.0px;width:400px;text-align:center;top:1354.2px;font-size:13px;line-height:15.6px;color:#4a4a4a;">550</div>
<div class="t" style="left:193.0px;width:400px;text-align:center;top:1398.2px;font-size:13px;line-height:15.6px;color:#4a4a4a;">610</div>
<div class="t" style="left:193.0px;width:400px;text-align:center;top:1445.2px;font-size:13px;line-height:15.6px;color:#4a4a4a;">–</div>
<div class="t" style="left:193.0px;width:400px;text-align:center;top:1489.2px;font-size:13px;line-height:15.6px;color:#4a4a4a;">–</div>
<div class="t" style="left:193.0px;width:400px;text-align:center;top:1536.0px;font-size:13px;line-height:15.6px;color:#4a4a4a;">570</div>
<div class="t" style="left:193.0px;width:400px;text-align:center;top:1579.2px;font-size:13px;line-height:15.6px;color:#4a4a4a;">675</div>
<div class="t" style="left:328.5px;width:400px;text-align:center;top:1353.9px;font-size:13px;line-height:15.6px;color:#4a4a4a;">1320</div>
<div class="t" style="left:328.5px;width:400px;text-align:center;top:1399.5px;font-size:13px;line-height:15.6px;color:#4a4a4a;">1218</div>
<div class="t" style="left:328.5px;width:400px;text-align:center;top:1445.6px;font-size:13px;line-height:15.6px;color:#4a4a4a;">–</div>
<div class="t" style="left:328.5px;width:400px;text-align:center;top:1489.2px;font-size:13px;line-height:15.6px;color:#4a4a4a;">–</div>
<div class="t" style="left:328.5px;width:400px;text-align:center;top:1536.2px;font-size:13px;line-height:15.6px;color:#4a4a4a;">1150</div>
<div class="t" style="left:328.5px;width:400px;text-align:center;top:1580.8px;font-size:13px;line-height:15.6px;color:#4a4a4a;">1400</div>
<div class="t" style="left:464.0px;width:400px;text-align:center;top:1353.0px;font-size:13px;line-height:15.6px;color:#4a4a4a;">2000</div>
<div class="t" style="left:464.0px;width:400px;text-align:center;top:1397.5px;font-size:13px;line-height:15.6px;color:#4a4a4a;">2680</div>
<div class="t" style="left:464.0px;width:400px;text-align:center;top:1444.2px;font-size:13px;line-height:15.6px;color:#4a4a4a;">1320</div>
<div class="t" style="left:464.0px;width:400px;text-align:center;top:1487.7px;font-size:13px;line-height:15.6px;color:#4a4a4a;">1640</div>
<div class="t" style="left:464.0px;width:400px;text-align:center;top:1533.8px;font-size:13px;line-height:15.6px;color:#4a4a4a;">1900</div>
<div class="t" style="left:464.0px;width:400px;text-align:center;top:1578.4px;font-size:13px;line-height:15.6px;color:#4a4a4a;">2650</div>
<div class="t" style="left:588.5px;width:400px;text-align:center;top:1352.2px;font-size:13px;line-height:15.6px;color:#4a4a4a;">2000</div>
<div class="t" style="left:588.5px;width:400px;text-align:center;top:1397.2px;font-size:13px;line-height:15.6px;color:#4a4a4a;">2680</div>
<div class="t" style="left:588.5px;width:400px;text-align:center;top:1445.2px;font-size:13px;line-height:15.6px;color:#4a4a4a;">–</div>
<div class="t" style="left:588.5px;width:400px;text-align:center;top:1489.2px;font-size:13px;line-height:15.6px;color:#4a4a4a;">–</div>
<div class="t" style="left:588.5px;width:400px;text-align:center;top:1534.2px;font-size:13px;line-height:15.6px;color:#4a4a4a;">2850</div>
<div class="t" style="left:588.5px;width:400px;text-align:center;top:1579.2px;font-size:13px;line-height:15.6px;color:#4a4a4a;">3980</div>
<div class="r" style="left:45px;top:1683px;width:16px;height:15px;background:#0b6dc2;"></div>
<div class="t" style="left:73.5px;top:1678.0px;font-size:20px;line-height:24.0px;color:#1a6db5;--ls:5.5px;"><i>重</i><i>要</i><i>提</i><i>示</i></div>
<div class="t" style="left:41.5px;top:1719.9px;font-size:14px;line-height:16.8px;color:#222;letter-spacing:2.5px;--ls:2.5px;"><i>不</i><i>能</i><i>超</i><i>過</i><i>傳</i><i>動</i><i>軸</i><i>的</i><i>最</i><i>大</i><i>允</i><i>許</i><i>扭</i><i>矩</i><i class="p">。</i><i>當</i><i>爲</i><i>雙</i><i>聯</i><i>泵</i><i>時</i><i>沒</i><i>有</i></div>
<div class="t" style="left:41.5px;top:1739.1px;font-size:14px;line-height:16.8px;color:#222;letter-spacing:2.92px;--ls:2.92px;"><i>問</i><i>題</i><i class="p">，</i><i>爲</i>100%<i>通</i><i>軸</i><i>傳</i><i>動</i><i class="p">。</i><i>然</i><i>而</i>,<i>當</i><i>爲</i><i>三</i><i>聯</i>(<i>和</i><i>多</i><i>聯</i>)</div>
<div class="t" style="left:41.5px;top:1758.4px;font-size:14px;line-height:16.8px;color:#222;letter-spacing:3.0px;--ls:3.0px;"><i>組</i><i>合</i><i>時</i><i>會</i><i>超</i><i>過</i><i>傳</i><i>動</i><i>軸</i><i>的</i><i>扭</i><i>矩</i><i class="p">。</i><i>因</i><i>此</i><i class="p">，</i><i>必</i><i>須</i><i>弄</i><i>清</i><i>總</i><i>載</i></div>
<div class="t" style="left:41.5px;top:1778.6px;font-size:14px;line-height:16.8px;color:#222;letter-spacing:2.9px;--ls:2.9px;"><i>荷</i><i>值</i><i>與</i><i>允</i><i>許</i><i>的</i><i>極</i><i>限</i><i>值</i><i>進</i><i>行</i><i>比</i><i>較</i><i class="p">。</i></div>
<div class="r" style="left:41px;top:1878px;width:355px;height:41px;border:1px solid #333;"></div>
<div class="t" style="left:18.5px;width:400px;text-align:center;top:1889.3px;font-size:15px;line-height:18.0px;color:#1f74c4;"><i>條</i><i>件</i>: <i>所</i><i>算</i><i>出</i><i>的</i><i>載</i><i>荷</i><i>值</i>&lt;<i>極</i><i>限</i><i>值</i></div>
<div class="t" style="left:41.5px;top:1940.9px;font-size:14.5px;line-height:17.4px;color:#222;--cw:15.2px;"><i>爲</i><i>了</i><i>盡</i><i>可</i><i>能</i><i>簡</i><i>便</i><i>地</i><i>對</i><i>允</i><i>許</i><i>的</i><i>總</i><i>載</i><i>荷</i><i>進</i><i>行</i><i>必</i><i>要</i><i>的</i><i>復</i><i>核</i><i class="p">，</i></div>
<div class="t" style="left:41.5px;top:1956.7px;font-size:14.5px;line-height:17.4px;color:#222;--cw:15.2px;"><i>所</i><i>以</i><i>在</i><i>表</i><i>中</i><i>給</i><i>出</i><i>了</i><i>各</i><i>自</i><i>的</i><i>泵</i><i>和</i><i>軸</i><i>的</i><i>結</i><i>構</i><i>所</i><i>規</i><i>定</i><i>的</i><i>極</i><i>限</i><i>値</i></div>
<div class="r" style="left:41px;top:2006px;width:355px;height:49px;border:1px solid #333;"></div>
<div class="t" style="left:24.30000000000001px;width:400px;text-align:center;top:2022.0px;font-size:14px;line-height:16.8px;color:#1f74c4;"><i>多</i><i>聯</i><i>泵</i><i>的</i><i>總</i><i>載</i><i>荷</i>=<i>各</i><i>個</i><i>泵</i><i>載</i><i>荷</i><i>的</i><i>總</i><i>和</i></div>
<div class="t" style="left:41.5px;top:2069.3px;font-size:15px;line-height:18.0px;color:#222;--cw:15.55px;"><i>所</i><i>算</i><i>出</i><i>的</i><i>總</i><i>載</i><i>荷</i><i>就</i><i>是</i><i>各</i><i>個</i><i>泵</i><i>載</i><i>荷</i><i>值</i><i>的</i><i>總</i><i>和</i>.</div>
<div class="r" style="left:41px;top:2114px;width:355px;height:56px;border:1px solid #333;"></div>
<div class="t" style="left:98px;top:2125.7px;font-size:13.5px;line-height:16.2px;color:#1f74c4;"><i>單</i><i>個</i><i>泵</i><i>的</i><i>載</i><i>荷</i><i>值</i>=P x Vg</div>
<div class="t" style="left:98px;top:2143.4px;font-size:13.5px;line-height:16.2px;color:#1f74c4;">(pressure in bar x displacement in cm<sup style="font-size:8px;line-height:0">3</sup>/rev)</div>
<div class="t" style="left:41.5px;top:2192.3px;font-size:15px;line-height:18.0px;color:#222;--cw:15.3px;letter-spacing:0.6px;"><i>每</i><i>一</i><i>個</i><i>單</i><i>個</i><i>泵</i><i>的</i><i>載</i><i>荷</i><i>值</i><i>可</i><i>以</i><i>由</i><i>最</i><i>大</i><i>工</i><i>作</i><i>壓</i><i>力</i>P(bar)</div>
<div class="t" style="left:41.5px;top:2209.5px;font-size:15px;line-height:18.0px;color:#222;--cw:15.3px;letter-spacing:0.6px;"><i>乘</i><i>以</i><i>最</i><i>大</i><i>排</i><i>量</i>Vg(cm<sup style="font-size:8px;line-height:0">3</sup>/rev)<i>而</i><i>得</i><i>到</i>.</div>
<div class="r" style="left:479px;top:1727px;width:366px;height:38px;background:#79a6da;"></div>
<div class="r" style="left:479px;top:1765px;width:137px;height:547px;background:#c5d3ee;"></div>
<div class="r" style="left:713px;top:1765px;width:132px;height:547px;background:#c5d3ee;"></div>
<div class="r" style="left:479px;top:1727px;width:1px;height:586px;background:#1e2633;"></div>
<div class="r" style="left:616px;top:1727px;width:1px;height:586px;background:#1e2633;"></div>
<div class="r" style="left:713px;top:1727px;width:1px;height:586px;background:#1e2633;"></div>
<div class="r" style="left:845px;top:1727px;width:1px;height:586px;background:#1e2633;"></div>
<div class="r" style="left:479px;top:1727px;width:367px;height:1px;background:#1e2633;"></div>
<div class="r" style="left:479px;top:1765px;width:367px;height:1px;background:#1e2633;"></div>
<div class="r" style="left:479px;top:1868px;width:367px;height:1px;background:#1e2633;"></div>
<div class="r" style="left:479px;top:1973px;width:367px;height:1px;background:#1e2633;"></div>
<div class="r" style="left:479px;top:2076px;width:367px;height:1px;background:#1e2633;"></div>
<div class="r" style="left:479px;top:2208px;width:367px;height:1px;background:#1e2633;"></div>
<div class="r" style="left:479px;top:2312px;width:367px;height:1px;background:#1e2633;"></div>
<div class="t" style="left:348px;width:400px;text-align:center;top:1738.2px;font-size:13px;line-height:15.6px;color:#333;"><i>泵</i></div>
<div class="t" style="left:464.5px;width:400px;text-align:center;top:1738.2px;font-size:13px;line-height:15.6px;color:#333;"><i>軸</i></div>
<div class="t" style="left:578px;width:400px;text-align:center;top:1738.2px;font-size:13px;line-height:15.6px;color:#333;"><i>極</i><i>限</i><i>值</i></div>
<div class="t" style="left:348px;width:400px;text-align:center;top:1808.3px;font-size:12.5px;line-height:15.0px;color:#333;letter-spacing:1px;">PV016-PV023</div>
<div class="t" style="left:464.5px;width:400px;text-align:center;top:1777.7px;font-size:13px;line-height:15.6px;color:#333;">N</div>
<div class="t" style="left:578px;width:400px;text-align:center;top:1777.7px;font-size:13px;line-height:15.6px;color:#333;">17700</div>
<div class="t" style="left:464.5px;width:400px;text-align:center;top:1798.5px;font-size:13px;line-height:15.6px;color:#333;">D</div>
<div class="t" style="left:578px;width:400px;text-align:center;top:1798.5px;font-size:13px;line-height:15.6px;color:#333;">17700</div>
<div class="t" style="left:464.5px;width:400px;text-align:center;top:1819.3px;font-size:13px;line-height:15.6px;color:#333;">M</div>
<div class="t" style="left:578px;width:400px;text-align:center;top:1819.3px;font-size:13px;line-height:15.6px;color:#333;">17700</div>
<div class="t" style="left:464.5px;width:400px;text-align:center;top:1840.1px;font-size:13px;line-height:15.6px;color:#333;">K</div>
<div class="t" style="left:578px;width:400px;text-align:center;top:1840.1px;font-size:13px;line-height:15.6px;color:#333;">20130</div>
<div class="t" style="left:348px;width:400px;text-align:center;top:1897.1px;font-size:12.5px;line-height:15.0px;color:#333;letter-spacing:1px;">PV032-PV046</div>
<div class="t" style="left:348px;width:400px;text-align:center;top:1927.3px;font-size:12.5px;line-height:15.0px;color:#333;letter-spacing:1px;">PV056-PV065</div>
<div class="t" style="left:464.5px;width:400px;text-align:center;top:1881.2px;font-size:13px;line-height:15.6px;color:#333;">N</div>
<div class="t" style="left:578px;width:400px;text-align:center;top:1881.2px;font-size:13px;line-height:15.6px;color:#333;">32680</div>
<div class="t" style="left:464.5px;width:400px;text-align:center;top:1902.0px;font-size:13px;line-height:15.6px;color:#333;">D</div>
<div class="t" style="left:578px;width:400px;text-align:center;top:1902.0px;font-size:13px;line-height:15.6px;color:#333;">36380</div>
<div class="t" style="left:464.5px;width:400px;text-align:center;top:1922.8px;font-size:13px;line-height:15.6px;color:#333;">M</div>
<div class="t" style="left:578px;width:400px;text-align:center;top:1922.8px;font-size:13px;line-height:15.6px;color:#333;">33810</div>
<div class="t" style="left:464.5px;width:400px;text-align:center;top:1943.6px;font-size:13px;line-height:15.6px;color:#333;">K</div>
<div class="t" style="left:578px;width:400px;text-align:center;top:1943.6px;font-size:13px;line-height:15.6px;color:#333;">40250</div>
<div class="t" style="left:348px;width:400px;text-align:center;top:2017.1px;font-size:12.5px;line-height:15.0px;color:#333;letter-spacing:1px;">PV063-PV092</div>
<div class="t" style="left:464.5px;width:400px;text-align:center;top:1985.2px;font-size:13px;line-height:15.6px;color:#333;">N</div>
<div class="t" style="left:578px;width:400px;text-align:center;top:1985.2px;font-size:13px;line-height:15.6px;color:#333;">77280</div>
<div class="t" style="left:464.5px;width:400px;text-align:center;top:2006.0px;font-size:13px;line-height:15.6px;color:#333;">D</div>
<div class="t" style="left:578px;width:400px;text-align:center;top:2006.0px;font-size:13px;line-height:15.6px;color:#333;">72450</div>
<div class="t" style="left:464.5px;width:400px;text-align:center;top:2026.8px;font-size:13px;line-height:15.6px;color:#333;">M</div>
<div class="t" style="left:578px;width:400px;text-align:center;top:2026.8px;font-size:13px;line-height:15.6px;color:#333;">67620</div>
<div class="t" style="left:464.5px;width:400px;text-align:center;top:2047.6px;font-size:13px;line-height:15.6px;color:#333;">K</div>
<div class="t" style="left:578px;width:400px;text-align:center;top:2047.6px;font-size:13px;line-height:15.6px;color:#333;">83720</div>
<div class="t" style="left:348px;width:400px;text-align:center;top:2124.9px;font-size:12.5px;line-height:15.0px;color:#333;letter-spacing:1px;">PV140-PV180</div>
<div class="t" style="left:505px;top:2144.8px;font-size:12.5px;line-height:15.0px;color:#333;letter-spacing:1px;">PV210</div>
<div class="t" style="left:464.5px;width:400px;text-align:center;top:2083.2px;font-size:13px;line-height:15.6px;color:#333;">N</div>
<div class="t" style="left:578px;width:400px;text-align:center;top:2083.2px;font-size:13px;line-height:15.6px;color:#333;">118400</div>
<div class="t" style="left:464.5px;width:400px;text-align:center;top:2104.0px;font-size:13px;line-height:15.6px;color:#333;">D</div>
<div class="t" style="left:578px;width:400px;text-align:center;top:2104.0px;font-size:13px;line-height:15.6px;color:#333;">158760</div>
<div class="t" style="left:464.5px;width:400px;text-align:center;top:2124.8px;font-size:13px;line-height:15.6px;color:#333;">F</div>
<div class="t" style="left:578px;width:400px;text-align:center;top:2124.8px;font-size:13px;line-height:15.6px;color:#333;">78750</div>
<div class="t" style="left:464.5px;width:400px;text-align:center;top:2145.6px;font-size:13px;line-height:15.6px;color:#333;">G</div>
<div class="t" style="left:578px;width:400px;text-align:center;top:2145.6px;font-size:13px;line-height:15.6px;color:#333;">97650</div>
<div class="t" style="left:464.5px;width:400px;text-align:center;top:2166.4px;font-size:13px;line-height:15.6px;color:#333;">M</div>
<div class="t" style="left:578px;width:400px;text-align:center;top:2166.4px;font-size:13px;line-height:15.6px;color:#333;">113400</div>
<div class="t" style="left:464.5px;width:400px;text-align:center;top:2187.2px;font-size:13px;line-height:15.6px;color:#333;">K</div>
<div class="t" style="left:578px;width:400px;text-align:center;top:2187.2px;font-size:13px;line-height:15.6px;color:#333;">157500</div>
<div class="t" style="left:348px;width:400px;text-align:center;top:2253.5px;font-size:12.5px;line-height:15.0px;color:#333;letter-spacing:1px;">PV270</div>
<div class="t" style="left:464.5px;width:400px;text-align:center;top:2221.5px;font-size:13px;line-height:15.6px;color:#333;">N</div>
<div class="t" style="left:578px;width:400px;text-align:center;top:2221.5px;font-size:13px;line-height:15.6px;color:#333;">119000</div>
<div class="t" style="left:464.5px;width:400px;text-align:center;top:2242.3px;font-size:13px;line-height:15.6px;color:#333;">D</div>
<div class="t" style="left:578px;width:400px;text-align:center;top:2242.3px;font-size:13px;line-height:15.6px;color:#333;">159700</div>
<div class="t" style="left:464.5px;width:400px;text-align:center;top:2263.1px;font-size:13px;line-height:15.6px;color:#333;">M</div>
<div class="t" style="left:578px;width:400px;text-align:center;top:2263.1px;font-size:13px;line-height:15.6px;color:#333;">170100</div>
<div class="t" style="left:464.5px;width:400px;text-align:center;top:2283.9px;font-size:13px;line-height:15.6px;color:#333;">K</div>
<div class="t" style="left:578px;width:400px;text-align:center;top:2283.9px;font-size:13px;line-height:15.6px;color:#333;">236250</div>
<script>(function(){var s=document.createElement("span");s.style.cssText="position:absolute;left:-9999px;top:0;font-size:100px;font-family:\"Liberation Sans\",sans-serif;white-space:nowrap";s.textContent="\u7cfb\u5217\u9ad8\u58d3";document.body.appendChild(s);var w1=s.getBoundingClientRect().width;s.textContent="\u0378\u0378\u0378\u0378";var w2=s.getBoundingClientRect().width;document.body.removeChild(s);if(Math.abs(w1-w2)<2){document.documentElement.className+=" nocjk";}})();</script>
</body></html>
